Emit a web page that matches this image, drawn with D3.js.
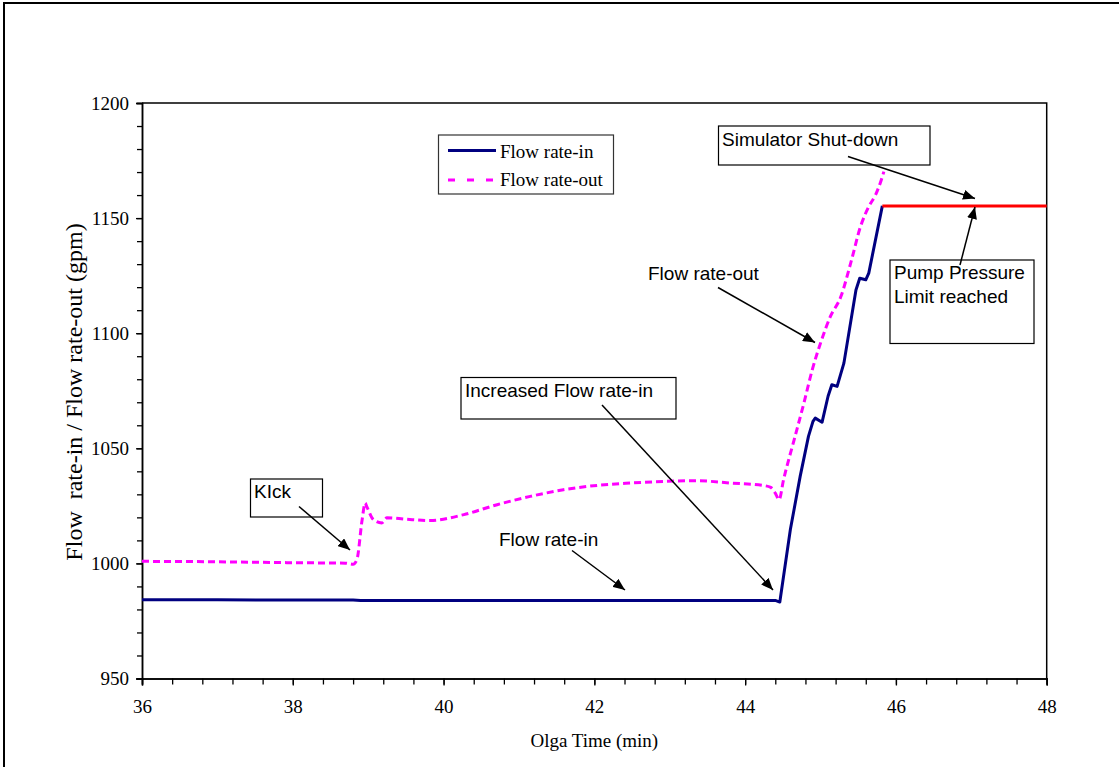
<!DOCTYPE html>
<html>
<head>
<meta charset="utf-8">
<script src="https://cdn.jsdelivr.net/npm/d3@7"></script>
<style>
  html, body { margin: 0; padding: 0; background: #fff; }
  svg { display: block; }
</style>
</head>
<body>
<svg id="chart" width="1119" height="767"></svg>
<script>
// Flow rate-in (gpm) versus Olga time (min)
const timeIn = [36, 37, 38, 38.8, 38.9, 40, 42, 44.4, 44.46, 44.6, 44.73, 44.84, 44.9, 44.93, 45.02, 45.1, 45.15, 45.22, 45.31, 45.47, 45.52, 45.6, 45.64, 45.82];
const flowIn = [984.2, 984.2, 984.1, 984.1, 983.9, 983.9, 983.9, 983.9, 983.2, 1014.7, 1037.8, 1055.2, 1061.7, 1063.1, 1061.3, 1072.6, 1077.6, 1076.9, 1087.0, 1118.8, 1123.9, 1123.2, 1126.1, 1155.3];

// Flow rate-out (gpm) versus Olga time (min)
const timeOut = [36, 37, 38, 38.7, 38.8, 38.85, 38.92, 38.96, 38.98, 39.07, 39.18, 39.25, 39.5, 39.82, 40.27, 40.71, 41.15, 41.59, 42.04, 42.48, 42.92, 43.36, 43.81, 44.25, 44.34, 44.4, 44.45, 44.51, 44.65, 44.78, 44.89, 45.0, 45.13, 45.27, 45.4, 45.53, 45.64, 45.73, 45.82, 45.84];
const flowOut = [1000.9, 1000.7, 1000.3, 1000.1, 999.6, 1001.6, 1019.0, 1026.2, 1024.8, 1019.0, 1017.6, 1019.8, 1019.2, 1018.6, 1021.2, 1025.5, 1029.1, 1032.0, 1033.9, 1034.9, 1035.6, 1035.9, 1034.9, 1033.8, 1033.0, 1030.5, 1027.7, 1036.4, 1053.7, 1069.7, 1084.1, 1095.7, 1107.2, 1115.9, 1130.4, 1146.3, 1155.0, 1160.1, 1168.0, 1170.2];

// Pump pressure limit plateau
const timeLimit = [45.82, 48];
const flowLimit = [1155.3, 1155.3];

// Axis ticks
const xMajorTicks = [36, 38, 40, 42, 44, 46, 48];
const xMinorTicks = d3.range(0, 31).map(i => 36 + i * 0.4);
const yMajorTicks = [950, 1000, 1050, 1100, 1150, 1200];
const yMinorTicks = d3.range(950, 1201, 10);

const SERIF = '"Liberation Serif", "Times New Roman", serif';
const SANS = '"Liberation Sans", Arial, sans-serif';

const svg = d3.select("#chart");
const W = 1119, H = 767;
const plot = { left: 142, top: 103, right: 1046.7, bottom: 678.5 };

const x = d3.scaleLinear().domain([36, 48]).range([plot.left, plot.right]);
const y = d3.scaleLinear().domain([950, 1200]).range([plot.bottom, plot.top]);

// Outer chart border (top and left edges visible)
svg.append("rect")
  .attr("x", 4).attr("y", 3)
  .attr("width", W + 10).attr("height", H + 10)
  .attr("fill", "#fff").attr("stroke", "#000").attr("stroke-width", 2);

// Arrowhead marker
svg.append("defs").append("marker")
  .attr("id", "arrow")
  .attr("markerUnits", "userSpaceOnUse")
  .attr("markerWidth", 13).attr("markerHeight", 10)
  .attr("refX", 12).attr("refY", 5)
  .attr("orient", "auto")
  .append("path").attr("d", "M0,0 L12,5 L0,10 Z").attr("fill", "#000");

// Plot frame (top and right)
svg.append("path")
  .attr("d", `M${plot.left},${plot.top} H${plot.right} V${plot.bottom}`)
  .attr("fill", "none").attr("stroke", "#000").attr("stroke-width", 1.5);

// Axes: minor ticks first, then major ticks with labels
const xMinor = svg.append("g").attr("transform", `translate(0,${plot.bottom})`)
  .call(d3.axisBottom(x).tickValues(xMinorTicks).tickSize(6).tickFormat(""));
const xMajor = svg.append("g").attr("transform", `translate(0,${plot.bottom})`)
  .call(d3.axisBottom(x).tickValues(xMajorTicks).tickSize(7).tickPadding(14).tickFormat(d3.format("d")));
const yMinor = svg.append("g").attr("transform", `translate(${plot.left},0)`)
  .call(d3.axisLeft(y).tickValues(yMinorTicks).tickSize(5).tickFormat(""));
const yMajor = svg.append("g").attr("transform", `translate(${plot.left},0)`)
  .call(d3.axisLeft(y).tickValues(yMajorTicks).tickSize(6).tickPadding(7).tickFormat(d3.format("d")));

[xMinor, xMajor, yMinor, yMajor].forEach(g => {
  g.attr("font-family", SERIF).attr("font-size", 19);
  g.selectAll("path.domain").attr("stroke", "#000").attr("stroke-width", 1.5);
  g.selectAll(".tick line").attr("stroke", "#000").attr("stroke-width", 1.3);
  g.selectAll(".tick text")
    .style("font-family", SERIF).style("font-size", "19px").attr("fill", "#000");
});

// Axis titles
svg.append("text")
  .style("font-family", SERIF).style("font-size", "19px")
  .attr("x", (plot.left + plot.right) / 2).attr("y", 747)
  .attr("text-anchor", "middle").text("Olga Time (min)");
svg.append("text")
  .style("font-family", SERIF).style("font-size", "24px").style("white-space", "pre")
  .attr("transform", `translate(82,392) rotate(-90)`)
  .attr("text-anchor", "middle")
  .text("Flow  rate-in / Flow rate-out (gpm)");

// Series lines
const line = d3.line().x(d => x(d[0])).y(d => y(d[1]));
const inPts = timeIn.map((t, i) => [t, flowIn[i]]);
const outPts = timeOut.map((t, i) => [t, flowOut[i]]);
const limitPts = timeLimit.map((t, i) => [t, flowLimit[i]]);

svg.append("path").datum(outPts)
  .attr("d", line.curve(d3.curveMonotoneX))
  .attr("fill", "none").attr("stroke", "#ff00ff").attr("stroke-width", 3)
  .attr("stroke-dasharray", "7,4");
svg.append("path").datum(inPts)
  .attr("d", line.curve(d3.curveLinear))
  .attr("fill", "none").attr("stroke", "#000080").attr("stroke-width", 3)
  .attr("stroke-linejoin", "round");
svg.append("path").datum(limitPts)
  .attr("d", line.curve(d3.curveLinear))
  .attr("fill", "none").attr("stroke", "#ff0000").attr("stroke-width", 3);

// Legend
const legend = svg.append("g");
legend.append("rect").attr("x", 438.5).attr("y", 135).attr("width", 175).attr("height", 59)
  .attr("fill", "#fff").attr("stroke", "#333").attr("stroke-width", 1.2);
legend.append("line").attr("x1", 448).attr("x2", 496).attr("y1", 150.5).attr("y2", 150.5)
  .attr("stroke", "#000080").attr("stroke-width", 3);
legend.append("text").style("font-family", SERIF).style("font-size", "19px")
  .attr("x", 500).attr("y", 157.5).text("Flow rate-in");
legend.append("line").attr("x1", 448).attr("x2", 496).attr("y1", 180).attr("y2", 180)
  .attr("stroke", "#ff00ff").attr("stroke-width", 3).attr("stroke-dasharray", "7,12");
legend.append("text").style("font-family", SERIF).style("font-size", "19px")
  .attr("x", 500).attr("y", 186).text("Flow rate-out");

// Annotations
function box(x0, y0, w, h) {
  svg.append("rect").attr("x", x0).attr("y", y0).attr("width", w).attr("height", h)
    .attr("fill", "#fff").attr("stroke", "#000").attr("stroke-width", 1.2);
}
function label(tx, ty, str) {
  svg.append("text").style("font-family", SANS).style("font-size", "19px")
    .attr("x", tx).attr("y", ty).text(str);
}
function arrow(x1, y1, x2, y2) {
  svg.append("line").attr("x1", x1).attr("y1", y1).attr("x2", x2).attr("y2", y2)
    .attr("stroke", "#000").attr("stroke-width", 1.5).attr("marker-end", "url(#arrow)");
}

// Kick
box(250.5, 479, 72, 38);
label(254, 497.5, "KIck");
arrow(299, 506.5, 350, 550);

// Flow rate-in
label(499, 545.5, "Flow rate-in");
arrow(572, 550.5, 625, 590);

// Increased Flow rate-in
box(461, 377.5, 215, 41.5);
label(465, 397, "Increased Flow rate-in");
arrow(602, 405, 773, 590);

// Flow rate-out
label(648, 280, "Flow rate-out");
arrow(718, 287.5, 815, 342.5);

// Simulator Shut-down
box(718.5, 126, 211.5, 39);
label(722, 145.5, "Simulator Shut-down");
arrow(848, 156.5, 975, 198.5);

// Pump Pressure Limit reached
box(890, 260, 144, 83.5);
label(894, 279, "Pump Pressure");
label(894, 302.5, "Limit reached");
arrow(960, 265, 975, 207);
</script>
</body>
</html>
